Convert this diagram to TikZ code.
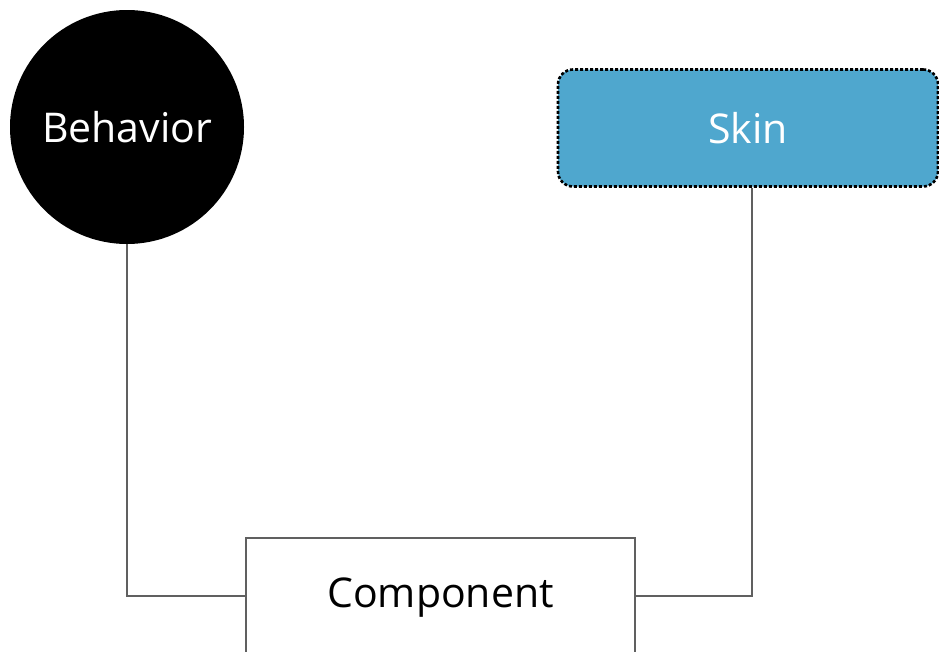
\documentclass[tikz,border=0pt]{standalone}
\usepackage{fontspec}
\setmainfont{Open Sans}
\definecolor{skinblue}{HTML}{4FA7CE}
\definecolor{linegray}{HTML}{606060}
\begin{document}
\begin{tikzpicture}[x=1pt,y=-1pt,
  conn/.style={draw=linegray,line width=2pt},
  lbl/.style={font=\fontsize{41}{46}\selectfont}]
\useasboundingbox (0,0) rectangle (939,651);
\clip (0,0) rectangle (939,651);
\node[circle,fill=black,minimum size=234pt,inner sep=0pt,text=white,lbl] (beh) at (127,127) {Behavior};
\node[rounded corners=15pt,fill=skinblue,draw=black,line width=2.6pt,dash pattern=on 3pt off 2pt,
  minimum width=380pt,minimum height=117pt,inner sep=0pt,text=white,lbl] (skin) at (748,128) {Skin};
\node[draw=linegray,line width=2pt,fill=white,minimum width=389pt,minimum height=150pt,inner sep=0pt,anchor=north west] (comp) at (245,537) {};
\node[lbl,text=black] (comptext) at (comp.north |- 0,598) {Component};
\coordinate (c1) at (127,596);
\coordinate (c2) at (752,596);
\draw[conn] (beh.south) -- (c1) -- (c1 -| comp.west);
\draw[conn] (skin.south -| c2) -- (c2) -- (c2 -| comp.east);
\end{tikzpicture}
\end{document}
